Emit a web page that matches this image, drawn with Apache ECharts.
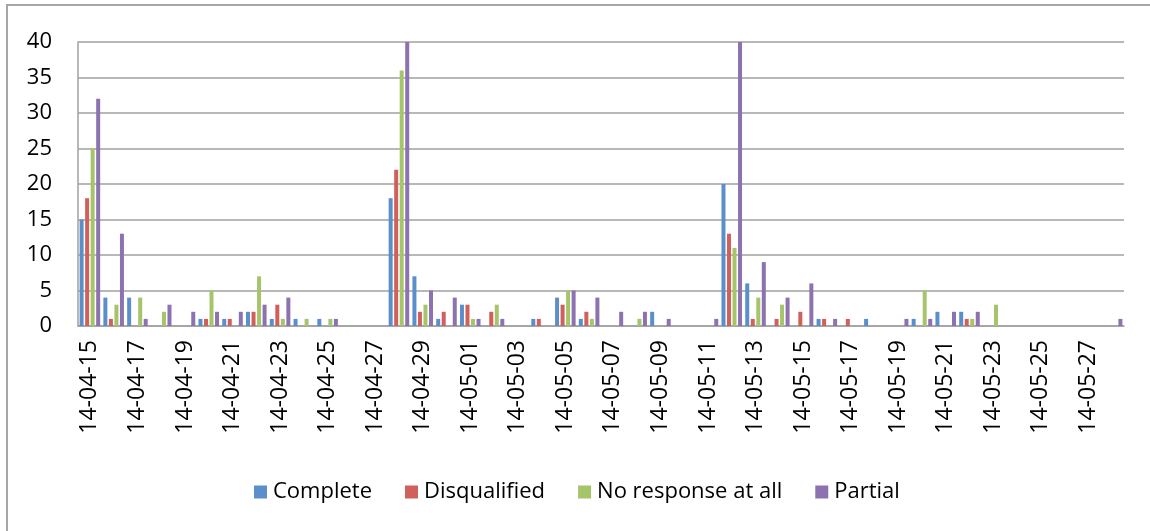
<!DOCTYPE html>
<html>
<head>
<meta charset="utf-8">
<title>Responses per day</title>
<script src="https://cdn.jsdelivr.net/npm/echarts@6/dist/echarts.min.js"></script>
<style>
  html, body { margin: 0; padding: 0; background: #ffffff; }
  #chart { width: 1150px; height: 531px; }
</style>
</head>
<body>
<div id="chart"></div>
<script>
// Days of the survey period (yy-mm-dd)
const days = [
  '14-04-15','14-04-16','14-04-17','14-04-18','14-04-19','14-04-20','14-04-21','14-04-22',
  '14-04-23','14-04-24','14-04-25','14-04-26','14-04-27','14-04-28','14-04-29','14-04-30',
  '14-05-01','14-05-02','14-05-03','14-05-04','14-05-05','14-05-06','14-05-07','14-05-08',
  '14-05-09','14-05-10','14-05-11','14-05-12','14-05-13','14-05-14','14-05-15','14-05-16',
  '14-05-17','14-05-18','14-05-19','14-05-20','14-05-21','14-05-22','14-05-23','14-05-24',
  '14-05-25','14-05-26','14-05-27','14-05-28'
];

// Daily counts per response status
const complete = [
  15, 4, 4, 0, 0, 1, 1, 2, 1, 1, 1, 0, 0,
  18, 7, 1, 3, 0, 0, 1, 4, 1, 0, 0, 2, 0,
  0, 20, 6, 0, 0, 1, 0, 1, 0, 1, 2, 2, 0,
  0, 0, 0, 0, 0
];
const disqualified = [
  18, 1, 0, 0, 0, 1, 1, 2, 3, 0, 0, 0, 0,
  22, 2, 2, 3, 2, 0, 1, 3, 2, 0, 0, 0, 0,
  0, 13, 1, 1, 2, 1, 1, 0, 0, 0, 0, 1, 0,
  0, 0, 0, 0, 0
];
const noResponse = [
  25, 3, 4, 2, 0, 5, 0, 7, 1, 1, 1, 0, 0,
  36, 3, 0, 1, 3, 0, 0, 5, 1, 0, 1, 0, 0,
  0, 11, 4, 3, 0, 0, 0, 0, 0, 5, 0, 1, 3,
  0, 0, 0, 0, 0
];
const partial = [
  32, 13, 1, 3, 2, 2, 2, 3, 4, 0, 1, 0, 0,
  40, 5, 4, 1, 1, 0, 0, 5, 4, 2, 2, 1, 0,
  1, 40, 9, 4, 6, 1, 0, 0, 1, 1, 2, 2, 0,
  0, 0, 0, 0, 1
];

const seriesNames = ['Complete', 'Disqualified', 'No response at all', 'Partial'];
const seriesData = [complete, disqualified, noResponse, partial];
const colors = ['#5b8fcb', '#d0605b', '#a6c46a', '#8d72b0'];

const FONT = '"Open Sans", "Liberation Sans", sans-serif';
const chart = echarts.init(document.getElementById('chart'), null, { renderer: 'canvas' });

chart.setOption({
  animation: false,
  backgroundColor: '#ffffff',
  color: colors,
  graphic: [{
    type: 'rect',
    shape: { x: 7, y: 5, width: 1400, height: 800 },
    style: { fill: 'none', stroke: '#a6a6a6', lineWidth: 2 },
    silent: true,
    z: -10
  }],
  grid: { left: 78, right: 26, top: 42, bottom: 205, containLabel: false },
  legend: {
    left: 249,
    top: 476,
    itemWidth: 13,
    itemHeight: 13,
    itemGap: 33,
    icon: 'rect',
    textStyle: { fontFamily: FONT, fontSize: 22, color: '#000000', padding: [0, 0, 0, 1] },
    data: seriesNames
  },
  xAxis: {
    type: 'category',
    data: days,
    boundaryGap: true,
    axisLine: { show: true, lineStyle: { color: '#a0a0a0', width: 1.5 } },
    axisTick: { show: false },
    axisLabel: {
      interval: 1,
      rotate: 90,
      margin: 14,
      fontFamily: FONT,
      fontSize: 23,
      color: '#000000'
    },
    splitLine: { show: false }
  },
  yAxis: {
    type: 'value',
    min: 0,
    max: 40,
    interval: 5,
    axisLine: { show: true, lineStyle: { color: '#a0a0a0', width: 1.5 } },
    axisTick: { show: false },
    axisLabel: {
      margin: 26,
      fontFamily: FONT,
      fontSize: 22,
      color: '#000000'
    },
    splitLine: { show: true, lineStyle: { color: '#a0a0a0', width: 1.5 } }
  },
  series: seriesNames.map((name, k) => ({
    name: name,
    type: 'bar',
    data: seriesData[k],
    barWidth: 4,
    barGap: '38%',
    itemStyle: { color: colors[k] }
  }))
});
</script>
</body>
</html>
